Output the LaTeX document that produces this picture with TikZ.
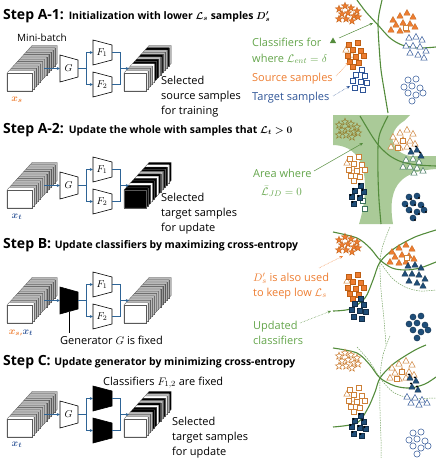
\documentclass[tikz,border=0pt]{standalone}
\usepackage{fontspec}
\setmainfont{Open Sans}
\usepackage{amsmath}
\usepackage{bm}
\usetikzlibrary{arrows.meta}
\definecolor{netblue}{RGB}{46,100,150}
\definecolor{myor}{RGB}{237,125,49}
\definecolor{myordk}{RGB}{190,95,20}
\definecolor{horange}{RGB}{205,128,55}
\definecolor{tblue}{RGB}{31,78,121}
\definecolor{tbluet}{RGB}{47,85,151}
\definecolor{txtgreen}{RGB}{100,165,75}
\definecolor{lgreen}{RGB}{84,140,60}
\definecolor{areag}{RGB}{170,202,152}
\definecolor{khaki}{RGB}{150,130,50}
\definecolor{tealg}{RGB}{60,115,90}
\colorlet{g}{gray!55}
\colorlet{w}{white}
\colorlet{b}{black}
% markers
\newcommand{\mtri}[3]{\path[#1] ({#2},{#3-3.5}) -- ({#2+3.2},{#3+2.2}) -- ({#2-3.2},{#3+2.2}) -- cycle;}
\newcommand{\msq}[3]{\path[#1] ({#2-2.6},{#3-2.6}) rectangle ({#2+2.6},{#3+2.6});}
\newcommand{\mcir}[3]{\path[#1] ({#2},{#3}) circle[radius=3.1];}
\newcommand{\mstar}[3]{\path[#1] plot[samples at={0,...,9}] ({#2+((mod(\x,2)==0)?3.9:1.6)*cos(90+36*\x)},{#3-((mod(\x,2)==0)?3.9:1.6)*sin(90+36*\x)}) -- cycle;}
\newcommand{\mdot}[2]{\fill[black] ({#1},{#2}) circle[radius=1.1];}
% clusters
\newcommand{\starcl}[3]{\foreach \mx/\my in {0/0,6/-3,12/-1,18/2,3/5,9/4,15/7,0/10,7/10,13/12,19/8}{\mstar{#1}{#2+\mx}{#3+\my}}}
\newcommand{\tritr}[3]{\foreach \mx/\my in {0/0,7/-4,14/-7,20/-3,3/5,10/3,17/4,-2/10,7/11,14/10,22/7}{\mtri{#1}{#2+\mx}{#3+\my}}}
\newcommand{\trib}[3]{\foreach \mx/\my in {0/0,7/-1,13/2,-3/8,4/8,11/9,17/13,1/15,9/17,15/20}{\mtri{#1}{#2+\mx}{#3+\my}}}
\newcommand{\sql}[3]{\foreach \mx/\my in {0/0,9/-2,4/5,12/6,-1/11,7/12,15/11,1/17,10/18,4/22}{\msq{#1}{#2+\mx}{#3+\my}}}
\newcommand{\sqb}[3]{\foreach \mx/\my in {9/0,3/5,12/6,0/11,8/12,14/13,2/18,10/20}{\msq{#1}{#2+\mx}{#3+\my}}}
\newcommand{\circl}[3]{\foreach \mx/\my in {4/0,12/-1,0/7,8/6,16/8,19/13,4/13,12/15,8/21}{\mcir{#1}{#2+\mx}{#3+\my}}}
% stack of cards
\newcommand{\stackdraw}[5]{%
  \foreach \cc [count=\kk from 0] in {#5}{%
    \pgfmathsetmacro\ox{(11-\kk)*2.1}\pgfmathsetmacro\oy{-(11-\kk)*2.3}%
    \draw[stackline, fill=\cc] ({#1+\ox},{#2+\oy+#4}) -- ++(#3,0) -- ++(2.1,-2.3) -- ++(0,-#4) -- ++(-#3,0) -- ++(-2.1,2.3) -- cycle;
    \draw[stackline] ({#1+\ox},{#2+\oy}) rectangle ++(#3,#4);
  }}
% network row
\newcommand{\netrow}[8]{%
\begin{scope}[shift={(0,#2)}]
  \stackdraw{7}{73}{25}{18}{g,g,g,g,g,g,g,g,g,g,g,w}
  \stackdraw{124}{73}{22}{18}{#5}
  \path[trap,#3] (60,55) -- (78,60) -- (78,77) -- (60,82) -- cycle;
  \node[lbl] (#1G) at (68.5,68.5) {#6};
  \path[trap,#4] (93,40) -- (112,45) -- (112,60) -- (93,65) -- cycle;
  \node[lbl] (#1Fa) at (102,52.5) {#7};
  \path[trap,#4] (93,72) -- (112,77) -- (112,92) -- (93,97) -- cycle;
  \node[lbl] (#1Fb) at (102,84.5) {#8};
  \coordinate (#1in) at (44,68.5);
  \coordinate (#1Gw) at (60,68.5);
  \coordinate (#1Ge) at (78,68.5);
  \coordinate (#1sp) at (86,68.5);
  \coordinate (#1Faw) at (93,52.5);
  \coordinate (#1Fbw) at (93,84.5);
  \coordinate (#1Fae) at (112,52.5);
  \coordinate (#1Fbe) at (112,84.5);
  \coordinate (#1jn) at (120,68.5);
  \coordinate (#1out) at (129,68.5);
  \draw[netarrow] (#1in) -- (#1Gw);
  \draw[netline] (#1Ge) -- (#1sp);
  \draw[netarrow] (#1sp) |- (#1Faw);
  \draw[netarrow] (#1sp) |- (#1Fbw);
  \draw[netline] (#1Fae) -| (#1jn);
  \draw[netline] (#1Fbe) -| (#1jn);
  \draw[netarrow] (#1jn) -- (#1out);
\end{scope}}
\begin{document}
\begin{tikzpicture}[x=1pt,y=-1pt,
  stackline/.style={draw=black!65,line width=0.25pt},
  trap/.style={draw=black,line width=0.6pt},
  lbl/.style={inner sep=0pt,font=\fontsize{10}{12}\selectfont},
  netline/.style={draw=netblue,line width=0.7pt},
  netarrow/.style={netline,-{Stealth[length=3.2pt,width=3pt]}},
  cls/.style={draw=lgreen,line width=1.1pt},
  oldcls/.style={draw=lgreen!80,line width=0.5pt,dash pattern=on 1.5pt off 1pt},
  ttl/.style={anchor=base west,inner sep=0pt,font=\bfseries},
  txt/.style={anchor=base west,inner sep=0pt,font=\fontsize{11}{13}\selectfont},
  pointer/.style={line width=0.5pt,-{Stealth[length=3.5pt,width=3pt]}},
  forf/.style={fill=myor,draw=myordk,line width=0.3pt},
  forh/.style={fill=white,draw=horange,line width=0.5pt},
  fbf/.style={fill=tblue,draw=tblue!60!black,line width=0.3pt},
  fbh/.style={fill=white,draw=tbluet,line width=0.5pt},
  fkh/.style={fill=none,draw=khaki,line width=0.5pt},
  fth/.style={fill=white,draw=tealg,line width=0.5pt}]
\useasboundingbox (0,0) rectangle (436,458);

% ================= titles
\node[ttl] (tA1) at (3,19) {\fontsize{14}{16}\selectfont Step A-1: \fontsize{10.4}{13}\selectfont Initialization with lower $\bm{\mathcal{L}_s}$ samples $\bm{D'_s}$};
\node[ttl] (tA2) at (3,133) {\fontsize{14}{16}\selectfont Step A-2: \fontsize{10.4}{13}\selectfont Update the whole with samples that $\bm{\mathcal{L}_t > 0}$};
\node[ttl] (tB) at (3,248) {\fontsize{14}{16}\selectfont Step B: \fontsize{10.4}{13}\selectfont Update classifiers by maximizing cross-entropy};
\node[ttl] (tC) at (3,365) {\fontsize{14}{16}\selectfont Step C: \fontsize{10.4}{13}\selectfont Update generator by minimizing cross-entropy};

% ================= networks
\netrow{a}{0}{fill=white}{fill=white}{g,b,g,g,b,g,b,b,w,g,g,w}{$G$}{$F_1$}{$F_2$}
\netrow{c}{117}{fill=white}{fill=white}{b,w,b,b,g,b,w,b,b,w,b,b}{$G$}{$F_1$}{$F_2$}
\netrow{d}{232}{fill=black}{fill=white}{g,g,g,g,g,g,g,g,g,g,g,w}{}{$F_1$}{$F_2$}
\netrow{e}{346}{fill=white}{fill=black}{b,g,w,b,g,b,w,b,b,g,g,w}{$G$}{}{}

\node[txt] (mb) at (17,41) {\fontsize{10}{12}\selectfont Mini-batch};
\node[inner sep=0pt] (xa) at (17,100) {\color{myor}$\bm{x_s}$};
\node[inner sep=0pt] (xc) at (17,217) {\color{tbluet}$\bm{x_t}$};
\node[inner sep=0pt] (xd) at (21,333) {\color{myor}$\bm{x_s}$,\color{tbluet}$\bm{x_t}$};
\node[inner sep=0pt] (xe) at (17,445) {\color{tbluet}$\bm{x_t}$};

\node[txt] (sa1) at (161,84) {Selected};
\node[txt] (sa2) at (161,99) {source samples};
\node[txt] (sa3) at (161,114) {for training};
\node[txt] (sc1) at (161,201) {Selected};
\node[txt] (sc2) at (161,216) {target samples};
\node[txt] (sc3) at (161,231) {for update};
\node[txt] (se1) at (172,425) {Selected};
\node[txt] (se2) at (172,440) {target samples};
\node[txt] (se3) at (172,455) {for update};

\node[txt] (gfix) at (60,344) {Generator $G$ is fixed};
\coordinate (gbot) at (69,311.5);
\coordinate (gtxt) at (69,333);
\draw[line width=0.8pt] (gbot) -- (gtxt);
\node[txt] (ffix) at (103,385) {Classifiers $F_{1,2}$ are fixed};

% ================= panel A-1
\draw[cls] plot[smooth] coordinates {(382,0) (379,14) (378,25) (379,45) (381,70) (385,95) (388,113)};
\draw[cls] plot[smooth] coordinates {(357,0) (366,12) (378,25) (390,38) (402,45) (418,48) (436,47)};
\starcl{forf}{339}{9}
\tritr{forf}{393}{20}
\msq{forh}{406}{28}
\trib{fbh}{409}{38}
\mtri{forh}{346}{50}
\mtri{forh}{352}{55}
\sql{forf}{349}{45}
\sqb{fbh}{353}{70}
\circl{fbh}{404}{80}
\node[txt,text=txtgreen] (la1) at (252,46) {Classifiers for};
\node[txt,text=txtgreen] (la2) at (252,62) {where $\mathcal{L}_{ent}=\delta$};
\mtri{fill=lgreen}{333}{41}
\coordinate (pa1) at (339,38);
\coordinate (pa2) at (373,23);
\draw[pointer,lgreen] (pa1) -- (pa2);
\node[txt,text=myor] (la3) at (252,81) {Source samples};
\coordinate (pa3) at (336,76);
\coordinate (pa4) at (349,62);
\draw[pointer,myor,densely dotted] (pa3) -- (pa4);
\node[txt,text=tbluet] (la4) at (252,100) {Target samples};
\coordinate (pa5) at (333,96);
\coordinate (pa6) at (350,86);
\draw[pointer,tbluet,densely dotted] (pa5) -- (pa6);

% ================= panel A-2
\fill[areag] (333,115) -- (410,115) -- (404,121) .. controls (386,132) and (390,152) .. (410,156) -- (436,156) -- (436,169) .. controls (405,171) and (386,182) .. (393,224) -- (359,224) .. controls (368,195) and (372,146) .. (333,145) -- cycle;
\draw[cls] plot[smooth] coordinates {(388,116) (380,133) (378,147) (378,175) (379,200) (381,224)};
\draw[cls] plot[smooth] coordinates {(360,116) (372,136) (380,147) (390,156) (402,162) (418,165) (436,166)};
\starcl{fkh}{339}{125}
\tritr{forh}{393}{137}
\msq{forh}{403}{141}
\msq{forh}{398}{148}
\foreach \px/\py in {411/152,417/150,421/156}{\mtri{fbf}{\px}{\py}\mdot{\px-1}{\py-3.5}}
\foreach \mx/\my in {0/0,7/-1,13/2,-3/7,4/7,11/8,17/11,8/13}{\mtri{fth}{406+\mx}{160+\my}}
\mtri{forh}{347}{163}
\mtri{forh}{353}{168}
\sql{forh}{350}{159}
\msq{fth}{363}{201}
\msq{fth}{365}{209}
\foreach \mx/\my in {9/0,3/5,12/6,0/11,8/12,2/18}{\msq{fbf}{352+\mx}{186+\my}\mdot{350.5+\mx}{184+\my}}
\foreach \mx/\my in {4/0,12/-1,0/7,8/6,16/8,19/13,4/13,12/15,8/21}{\mcir{fbf}{405+\mx}{197+\my}\mdot{407+\mx}{199+\my}}
\node[txt,text=txtgreen] (lc1) at (253,177) {Area where};
\node[txt,text=txtgreen] (lc2) at (261,195) {$\bar{\mathcal{L}}_{JD}=0$};
\coordinate (pc1) at (314,171);
\coordinate (pc2) at (363,143);
\draw[pointer,lgreen] (pc1) -- (pc2);

% ================= panel B
\draw[oldcls] plot[smooth] coordinates {(390,227) (383,245) (380,262) (381,290) (384,320) (386,345)};
\draw[oldcls] plot[smooth] coordinates {(380,262) (392,278) (405,287) (420,291) (436,290)};
\draw[cls] plot[smooth] coordinates {(333,232) (357,238) (370,248) (380,260) (392,268) (405,270) (420,268) (436,262)};
\draw[cls] plot[smooth] coordinates {(333,311) (350,309) (365,298) (373,280) (380,262) (395,248) (415,237) (436,230)};
\starcl{forf}{339}{240}
\tritr{forf}{392}{252}
\msq{forh}{407}{258}
\trib{fbf}{408}{266}
\mtri{forh}{347}{281}
\sql{forf}{349}{277}
\sqb{fbf}{352}{299}
\circl{fbf}{409}{317}
\node[txt,text=myor] (lb1) at (253,281) {$D'_s$ is also used};
\node[txt,text=myor] (lb2) at (253,296) {to keep low $\mathcal{L}_s$};
\coordinate (pb1) at (319,268);
\coordinate (pb2) at (343,256);
\draw[pointer,myor,densely dotted] (pb1) -- (pb2);
\node[txt,text=txtgreen] (lb3) at (253,329) {Updated};
\node[txt,text=txtgreen] (lb4) at (253,344) {classifiers};
\coordinate (pb3) at (300,323);
\coordinate (pb4) at (331,311);
\draw[pointer,lgreen,densely dotted] (pb3) -- (pb4);

% ================= panel C
\draw[oldcls] plot[smooth] coordinates {(390,336) (383,355) (380,378) (380,410) (381,440) (381,458)};
\draw[oldcls] plot[smooth] coordinates {(357,347) (370,362) (380,378) (393,392) (410,398) (436,398)};
\draw[cls] plot[smooth] coordinates {(333,348) (357,353) (370,365) (380,378) (395,386) (410,388) (425,384) (436,377)};
\draw[cls] plot[smooth] coordinates {(333,427) (357,423) (368,408) (375,392) (380,378) (392,365) (405,356) (417,349) (426,345)};
\starcl{forh}{339}{356}
\tritr{forh}{392}{368}
\msq{forh}{402}{372}
\msq{forh}{397}{379}
\foreach \px/\py in {410/378,416/381,412/387,418/390}{\mtri{fbf}{\px}{\py}\mdot{\px-1}{\py-3.5}}
\foreach \mx/\my in {0/0,8/1,15/3,20/6,4/6,12/8}{\mtri{fbh}{407+\mx}{397+\my}}
\mtri{forh}{347}{394}
\mtri{forh}{353}{399}
\sql{forh}{350}{390}
\foreach \mx/\my in {9/0,3/5,12/6,0/11,8/12,14/13,2/18,10/20}{\msq{fbf}{352+\mx}{416+\my}\mdot{350.5+\mx}{414+\my}}
\circl{fbh}{409}{433}
\end{tikzpicture}
\end{document}
